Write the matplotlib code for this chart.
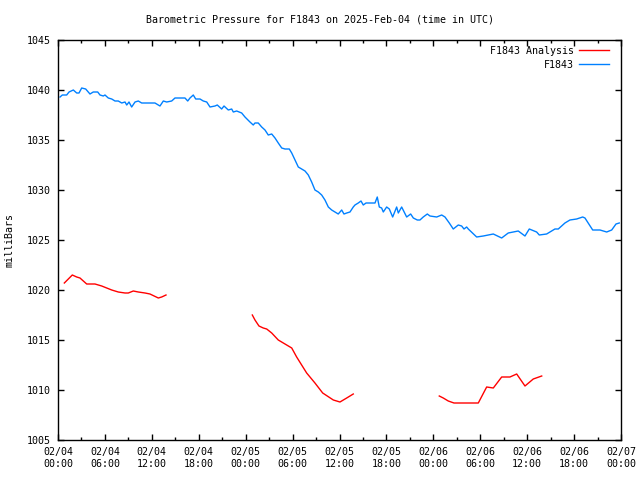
import matplotlib
matplotlib.use('Agg')
import matplotlib.pyplot as plt
import numpy as np

# hours since 2025-02-04 00:00 UTC
obs_hours = [0.26, 0.55, 1.11, 1.41, 1.96, 2.39, 2.69, 3.03, 3.54, 3.87, 4.09, 4.51, 5.08,
             5.37, 5.79, 6.01, 6.43, 6.87, 7.29, 7.71, 8.15, 8.57, 8.79, 9.08, 9.42, 9.85,
             10.27, 10.70, 11.13, 12.40, 13.04, 13.47, 13.90, 14.54, 14.96, 16.24, 16.59,
             16.88, 17.30, 17.61, 18.16, 18.58, 19.02, 19.44, 20.08, 20.37, 20.93, 21.23,
             21.78, 22.21, 22.42, 22.85, 23.49, 23.91, 24.55, 24.97, 25.19, 25.61, 26.05,
             26.47, 26.89, 27.33, 27.75, 28.17, 28.61, 29.03, 29.58, 29.89, 30.31, 30.73,
             31.16, 31.59, 32.01, 32.44, 32.86, 33.29, 33.72, 34.14, 34.57, 35.00, 35.42,
             35.84, 36.28, 36.57, 36.92, 37.34, 37.76, 37.98, 38.40, 38.75, 39.04, 39.39,
             40.54, 40.83, 41.09, 41.39, 41.60, 42.03, 42.37, 42.80, 43.31, 43.52, 43.95,
             44.59, 45.10, 45.44, 45.95, 46.29, 46.71, 47.23, 47.57, 48.43, 49.07, 49.49,
             50.04, 50.55, 51.19, 51.62, 51.92, 52.26, 52.47, 53.54, 54.39, 55.67, 56.74,
             57.58, 58.86, 59.72, 60.27, 61.21, 61.55, 62.49, 63.55, 63.98, 64.83, 65.47,
             66.33, 67.10, 67.39, 68.38, 69.31, 70.17, 70.81, 71.36, 71.78]
obs_mb = [1039.3, 1039.5, 1039.5, 1039.8, 1040.0, 1039.7, 1039.7, 1040.2, 1040.1, 1039.8,
          1039.6, 1039.8, 1039.8, 1039.5, 1039.4, 1039.5, 1039.2, 1039.1, 1038.9, 1038.9,
          1038.7, 1038.8, 1038.5, 1038.8, 1038.3, 1038.8, 1038.9, 1038.7, 1038.7, 1038.7,
          1038.4, 1038.9, 1038.8, 1038.9, 1039.2, 1039.2, 1038.9, 1039.2, 1039.5, 1039.1,
          1039.1, 1038.9, 1038.8, 1038.3, 1038.4, 1038.5, 1038.1, 1038.4, 1038.0, 1038.1,
          1037.8, 1037.9, 1037.7, 1037.3, 1036.8, 1036.5, 1036.7, 1036.7, 1036.3, 1036.0,
          1035.5, 1035.6, 1035.2, 1034.7, 1034.2, 1034.1, 1034.1, 1033.7, 1033.0, 1032.3,
          1032.1, 1031.9, 1031.5, 1030.8, 1030.0, 1029.8, 1029.5, 1029.0, 1028.3, 1028.0,
          1027.8, 1027.6, 1028.0, 1027.6, 1027.7, 1027.8, 1028.3, 1028.5, 1028.7, 1028.9,
          1028.5, 1028.7, 1028.7, 1029.3, 1028.3, 1028.2, 1027.8, 1028.3, 1028.1, 1027.3,
          1028.3, 1027.7, 1028.3, 1027.3, 1027.6, 1027.2, 1027.0, 1027.0, 1027.3, 1027.6,
          1027.4, 1027.3, 1027.5, 1027.3, 1026.7, 1026.1, 1026.5, 1026.4, 1026.1, 1026.3,
          1026.1, 1025.3, 1025.4, 1025.6, 1025.2, 1025.7, 1025.9, 1025.4, 1026.1, 1025.8,
          1025.5, 1025.6, 1026.1, 1026.1, 1026.7, 1027.0, 1027.1, 1027.3, 1027.2, 1026.0,
          1026.0, 1025.8, 1026.0, 1026.6, 1026.7]

# analysis, gaps marked with nan
ana_hours = [0.81, 1.83, 2.39, 2.81, 3.67, 4.73, 5.59, 6.23, 6.87, 7.71, 8.57, 8.99, 9.63,
             10.27, 11.13, 11.76, 12.83, 13.26, 13.81, 19.0,
             24.85, 25.19, 25.70, 26.25, 26.69, 27.33, 28.17, 29.03, 29.89, 30.52, 31.80,
             32.86, 33.85, 35.21, 36.06, 36.92, 37.76, 43.0,
             48.76, 49.27, 49.91, 50.64, 53.75, 54.82, 55.67, 56.74, 57.80, 58.66, 59.72,
             60.78, 61.86]
ana_mb = [1020.7, 1021.5, 1021.3, 1021.2, 1020.6, 1020.6, 1020.4, 1020.2, 1020.0, 1019.8,
          1019.7, 1019.7, 1019.9, 1019.8, 1019.7, 1019.6, 1019.2, 1019.3, 1019.5, np.nan,
          1017.5, 1017.0, 1016.4, 1016.2, 1016.1, 1015.7, 1015.0, 1014.6, 1014.2, 1013.3,
          1011.7, 1010.7, 1009.7, 1009.0, 1008.8, 1009.2, 1009.6, np.nan,
          1009.4, 1009.2, 1008.9, 1008.7, 1008.7, 1010.3, 1010.2, 1011.3, 1011.3, 1011.6,
          1010.4, 1011.1, 1011.4]

tick_hours = list(range(0, 73, 6))
tick_labels = ['02/04\n00:00', '02/04\n06:00', '02/04\n12:00', '02/04\n18:00',
               '02/05\n00:00', '02/05\n06:00', '02/05\n12:00', '02/05\n18:00',
               '02/06\n00:00', '02/06\n06:00', '02/06\n12:00', '02/06\n18:00',
               '02/07\n00:00']

plt.rcParams['font.family'] = 'DejaVu Sans Mono'
plt.rcParams['font.size'] = 7.2

fig = plt.figure(figsize=(6.4, 4.8), dpi=100)
ax = fig.add_axes([58 / 640, 40 / 480, 563 / 640, 400 / 480])

ax.plot(ana_hours, ana_mb, color='#ff0000', lw=1, label='F1843 Analysis')
ax.plot(obs_hours, obs_mb, color='#0080ff', lw=1, label='F1843')

ax.set_xlim(0, 72)
ax.set_ylim(1005, 1045)
ax.set_xticks(tick_hours)
ax.set_xticklabels(tick_labels)
ax.set_xticks(range(3, 72, 6), minor=True)
ax.set_yticks(range(1005, 1046, 5))
ax.tick_params(which='both', direction='in', top=True, right=True, width=1)
ax.tick_params(which='major', length=4.5, pad=5)
ax.tick_params(which='minor', length=2.5)
for s in ax.spines.values():
    s.set_linewidth(1)

ax.set_ylabel('milliBars')
ax.yaxis.set_label_coords(-0.078, 0.5)
fig.suptitle('Barometric Pressure for F1843 on 2025-Feb-04 (time in UTC)', y=0.97, fontsize=7.2)

leg = ax.legend(loc='upper right', bbox_to_anchor=(1 - 7 / 563, 1 - 1 / 400),
                frameon=False, markerfirst=False, handlelength=3.0,
                borderaxespad=0.1, labelspacing=0.4, handletextpad=0.5)
for t in leg.get_texts():
    t.set_ha('right')

fig.savefig('out.png', dpi=100)
